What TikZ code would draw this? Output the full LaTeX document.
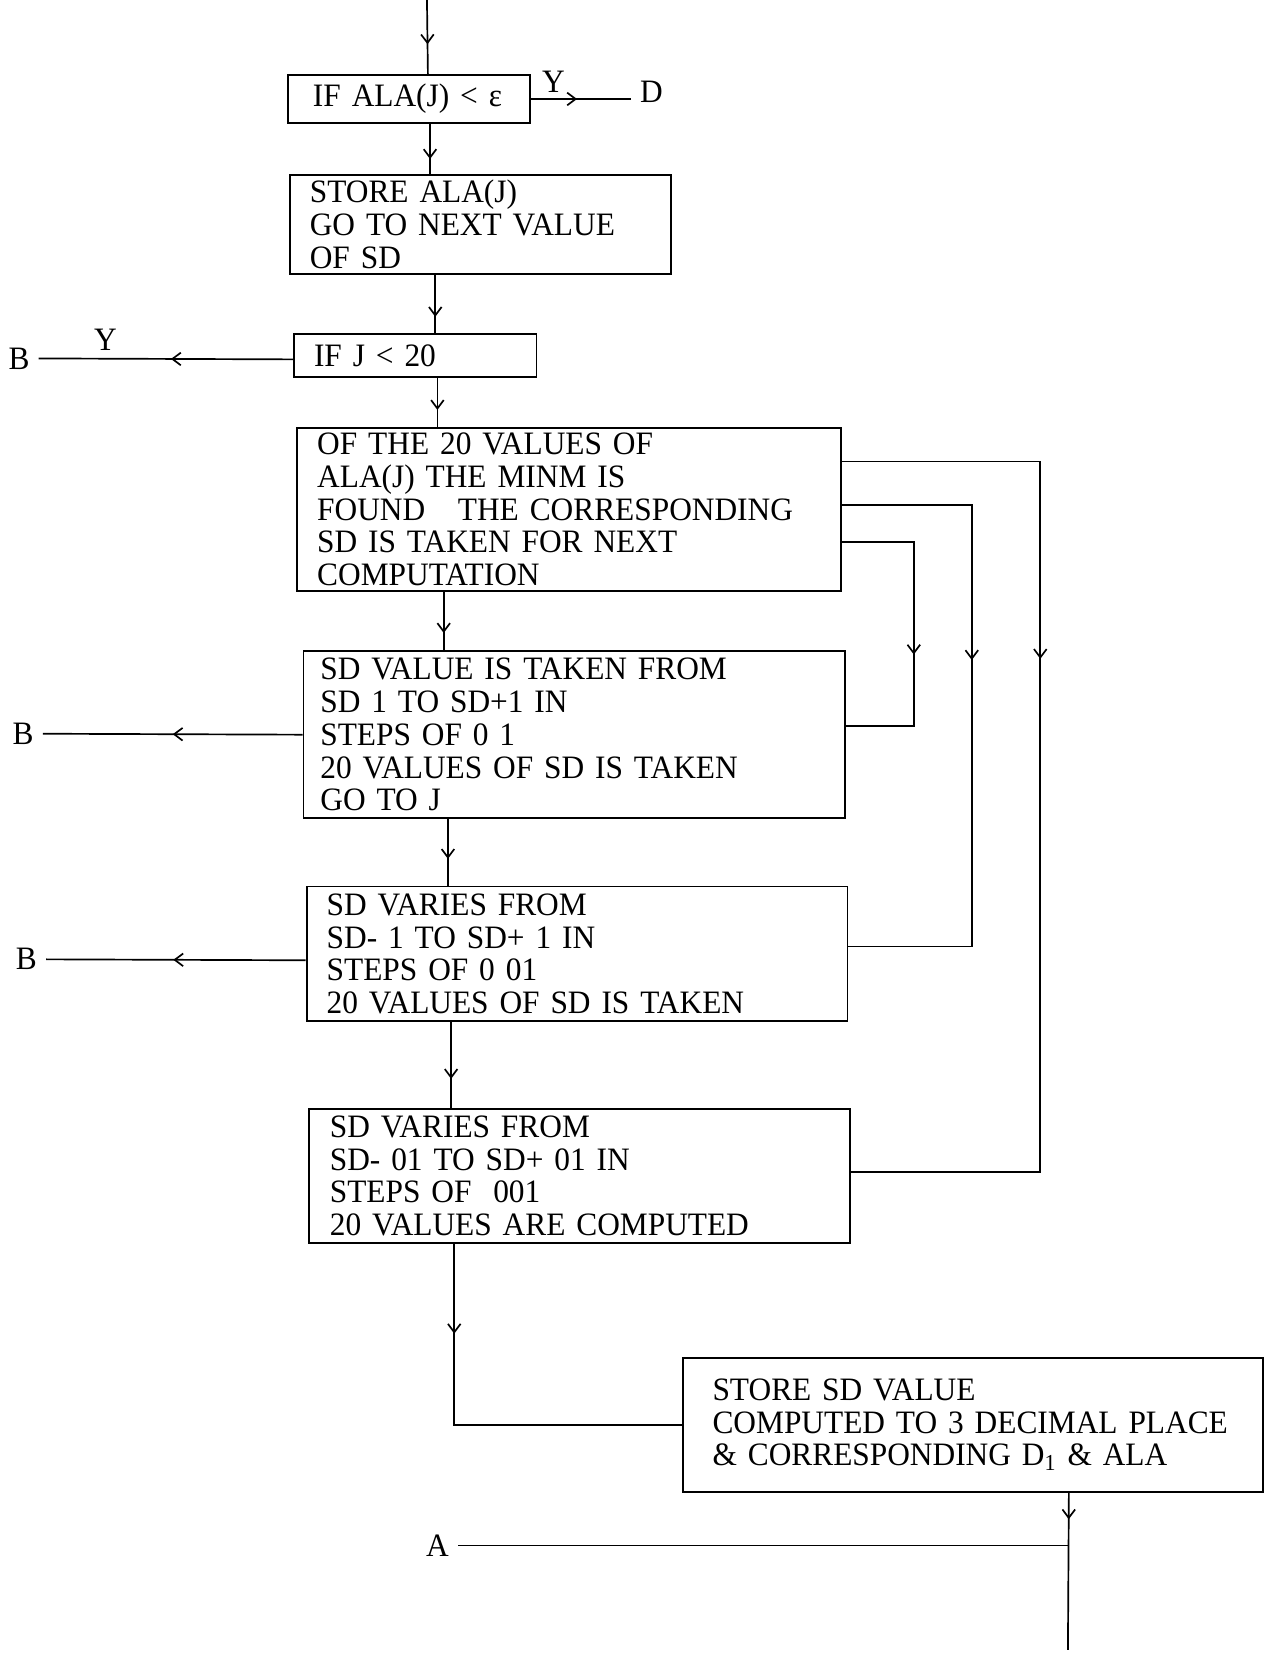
\documentclass[tikz,border=0pt]{standalone}
\usepackage{fontspec}
\setmainfont{Liberation Serif}[FakeStretch=0.96]
\usetikzlibrary{arrows.meta,decorations.markings}

\begin{document}
\begin{tikzpicture}[x=0.5pt,y=-0.5pt,line width=0.8pt,
  font=\fontsize{15.5}{15.5}\selectfont,
  procbox/.style={draw,line width=0.9pt,anchor=north west,align=left,inner ysep=2pt},
  flow/.style={postaction={decorate},decoration={markings,
    mark=at position #1 with {\arrow{Straight Barb[length=4pt,width=6pt]}}}},
  lbl/.style={inner sep=4pt}]
\useasboundingbox (0,0) rectangle (1203,1568);
% boxes
\node[procbox,inner xsep=12pt,text width=91pt,minimum height=23pt] (cond1) at (272,70) {IF~ALA(J)~<~ε};
\node[procbox,inner xsep=9.5pt,text width=162pt,minimum height=47pt] (store) at (274,165)
  {STORE ALA(J)\\GO TO NEXT VALUE\\OF SD};
\node[procbox,inner xsep=9.5pt,text width=96pt,minimum height=20.5pt] (cond2) at (278,316) {IF~J~<~20};
\node[procbox,inner xsep=9.5pt,text width=239pt,minimum height=77.5pt] (minm) at (281,405)
  {OF THE 20 VALUES OF\\ALA(J) THE MINM IS\\FOUND\quad{}THE CORRESPONDING\\SD IS TAKEN FOR NEXT\\COMPUTATION};
\node[procbox,inner xsep=8pt,text width=241pt,minimum height=79pt] (coarse) at (287,617)
  {SD VALUE IS TAKEN FROM\\SD 1 TO SD+1 IN\\STEPS OF 0 1\\20 VALUES OF SD IS TAKEN\\GO TO J};
\node[procbox,inner xsep=9.5pt,text width=237.5pt,minimum height=64pt] (fine) at (290,840)
  {SD VARIES FROM\\SD- 1 TO SD+ 1 IN\\STEPS OF 0 01\\20 VALUES OF SD IS TAKEN};
\node[procbox,inner xsep=10pt,text width=236.5pt,minimum height=63.5pt] (finest) at (292,1051)
  {SD VARIES FROM\\SD- 01 TO SD+ 01 IN\\STEPS OF \ 001\\20 VALUES ARE COMPUTED};
\node[procbox,inner xsep=14pt,text width=247pt,minimum height=63.5pt] (result) at (647,1287)
  {STORE SD VALUE\\COMPUTED~TO~3~DECIMAL~PLACE\\\& CORRESPONDING D\textsubscript{1} \& ALA};
% labels
\node[lbl] (D) at (618,87) {D};
\node[lbl] (yD) at (525,78) {Y};
\node[lbl] (B1) at (18,340) {B};
\node[lbl] (yB) at (100,322) {Y};
\node[lbl] (B2) at (22,696) {B};
\node[lbl] (B3) at (25,910) {B};
\node[lbl] (A) at (415,1466) {A};
\coordinate (in) at (405,0);
\coordinate (jA) at (1013,1466);
\coordinate (out) at (1013,1565);
% main flow
\draw[flow=0.6] (in) -- ([xshift=9pt]cond1.north);
\draw[flow=0.7] ([xshift=10pt]cond1.south) -- ([xshift=-24pt]store.north);
\draw[flow=0.72] ([xshift=-21.5pt]store.south) -- ([xshift=9.5pt]cond2.north);
\draw[flow=0.65] ([xshift=10.5pt]cond2.south) -- ([xshift=-62.5pt]minm.north);
\draw[flow=0.7] ([xshift=-59.5pt]minm.south) -- ([xshift=-62pt]coarse.north);
\draw[flow=0.6] ([xshift=-60pt]coarse.south) -- ([xshift=-61.25pt]fine.north);
\draw[flow=0.66] ([xshift=-59.75pt]fine.south) -- ([xshift=-60.75pt]finest.north);
\draw[flow=0.22] ([xshift=-59.25pt]finest.south) |- (result.west);
\draw[flow=0.17] ([xshift=45.5pt]result.south) -- (out);
\draw (A) -- (jA);
% branches
\draw[flow=0.46] (cond1.east) -- (cond1.east -| D.west);
\draw[flow=0.48] ([yshift=-1.75pt]cond2.west) -- (B1.east);
\draw[flow=0.5] (coarse.west) -- (B2.east);
\draw[flow=0.51] ([yshift=-3pt]fine.west) -- (B3.east);
% loops back from the minimum
\draw[flow=0.57] ([yshift=-15.25pt]minm.east) -- ++(68,0) |- ([yshift=4pt]coarse.east);
\draw[flow=0.41] ([yshift=2.25pt]minm.east) -- ++(123,0) |- ([yshift=3.5pt]fine.east);
\draw[flow=0.36] ([yshift=22.75pt]minm.east) -- ++(188,0) |- ([yshift=1.75pt]finest.east);
\end{tikzpicture}
\end{document}
